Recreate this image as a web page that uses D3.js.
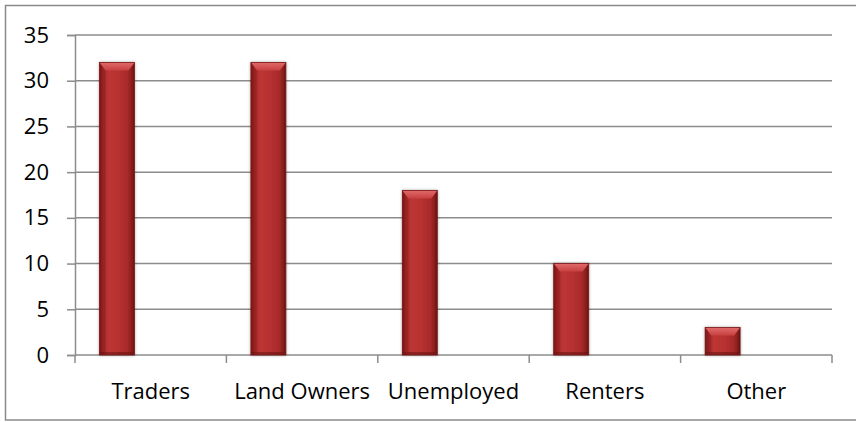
<!DOCTYPE html>
<html>
<head>
<meta charset="utf-8">
<script src="https://cdn.jsdelivr.net/npm/d3@7"></script>
<style>
  html, body { margin: 0; padding: 0; background: #fff; }
  svg { display: block; }
</style>
</head>
<body>
<svg id="chart" width="856" height="422"></svg>
<script>
// Occupation counts
const categories = ["Traders", "Land Owners", "Unemployed", "Renters", "Other"];
const values = [32, 32, 18, 10, 3];
const yTicks = [0, 5, 10, 15, 20, 25, 30, 35];

const svg = d3.select("#chart");
const W = 856, H = 422;
const margin = { left: 75, right: 24, top: 35, bottom: 67 };
const plotW = W - margin.left - margin.right;
const plotH = H - margin.top - margin.bottom;

const font = "'Open Sans', sans-serif";

// Outer frame
svg.append("rect")
  .attr("x", 5.5).attr("y", 5.5)
  .attr("width", W + 10).attr("height", 414.5)
  .attr("fill", "#fff").attr("stroke", "#8a8a8a").attr("stroke-width", 1.5);

const defs = svg.append("defs");
const side = defs.append("linearGradient").attr("id", "barSide")
  .attr("x1", "0").attr("x2", "1").attr("y1", "0").attr("y2", "0");
[["0%", "#6f1212"], ["10%", "#9e2525"], ["25%", "#bd3535"], ["50%", "#b93232"],
 ["80%", "#a82a2a"], ["92%", "#8a1e1e"], ["100%", "#661010"]]
  .forEach(([o, c]) => side.append("stop").attr("offset", o).attr("stop-color", c));

const cap = defs.append("linearGradient").attr("id", "barCap")
  .attr("x1", "0").attr("x2", "0").attr("y1", "0").attr("y2", "1");
[["0%", "#e06a6a"], ["100%", "#c84040"]]
  .forEach(([o, c]) => cap.append("stop").attr("offset", o).attr("stop-color", c));

const shadow = defs.append("filter").attr("id", "glow")
  .attr("x", "-30%").attr("y", "-10%").attr("width", "160%").attr("height", "120%");
shadow.append("feGaussianBlur").attr("in", "SourceAlpha").attr("stdDeviation", 1.6).attr("result", "b");
shadow.append("feComponentTransfer").attr("in", "b").attr("result", "s")
  .append("feFuncA").attr("type", "linear").attr("slope", 0.35);
const merge = shadow.append("feMerge");
merge.append("feMergeNode").attr("in", "s");
merge.append("feMergeNode").attr("in", "SourceGraphic");

const g = svg.append("g").attr("transform", `translate(${margin.left},${margin.top})`);

const x = d3.scaleBand().domain(categories).range([0, plotW]).padding(0);
const y = d3.scaleLinear().domain([0, 35]).range([plotH, 0]);

// Horizontal gridlines
g.append("g").selectAll("line").data(yTicks.filter(t => t > 0)).join("line")
  .attr("x1", 0).attr("x2", plotW)
  .attr("y1", d => y(d)).attr("y2", d => y(d))
  .attr("stroke", "#8c8c8c").attr("stroke-width", 1.5);

// Y axis
const yAxis = g.append("g")
  .call(d3.axisLeft(y).tickValues(yTicks).tickSize(8).tickPadding(18));
yAxis.select(".domain").attr("stroke", "#8c8c8c").attr("stroke-width", 1.5);
yAxis.selectAll(".tick line").attr("stroke", "#8c8c8c").attr("stroke-width", 1.5);
yAxis.selectAll("text").attr("font-family", font).attr("font-size", 22).attr("fill", "#000");

// X axis with boundary ticks between categories
const xAxisG = g.append("g").attr("transform", `translate(0,${plotH})`);
xAxisG.append("line").attr("x1", 0).attr("x2", plotW)
  .attr("stroke", "#8c8c8c").attr("stroke-width", 1.5);
const bounds = categories.map(c => x(c)).concat([plotW]);
xAxisG.selectAll("line.tk").data(bounds).join("line").attr("class", "tk")
  .attr("x1", d => d).attr("x2", d => d).attr("y1", 0).attr("y2", 8)
  .attr("stroke", "#8c8c8c").attr("stroke-width", 1.5);
xAxisG.selectAll("text").data(categories).join("text")
  .attr("x", d => x(d) + x.bandwidth() / 2).attr("y", 44)
  .attr("text-anchor", "middle")
  .attr("font-family", font).attr("font-size", 22).attr("fill", "#000")
  .text(d => d);

// Bars sit in the first slot of each category
const barOff = 0.162, barW = 0.231;
const bars = g.append("g").selectAll("g").data(categories.map((c, i) => ({ c, v: values[i] }))).join("g")
  .attr("filter", "url(#glow)");
bars.each(function (d) {
  const sel = d3.select(this);
  const bx = x(d.c) + x.bandwidth() * barOff;
  const bw = x.bandwidth() * barW;
  const top = y(d.v), bot = y(0);
  const bev = Math.min(8, (bot - top) / 2);
  sel.append("rect").attr("x", bx).attr("y", top).attr("width", bw).attr("height", bot - top)
    .attr("fill", "url(#barSide)");
  // top bevel
  sel.append("path")
    .attr("d", `M${bx},${top} L${bx + bw},${top} L${bx + bw - 6},${top + bev} L${bx + 6},${top + bev} Z`)
    .attr("fill", "url(#barCap)");
  sel.append("path")
    .attr("d", `M${bx},${top} L${bx + 6},${top + bev} L${bx + 6},${bot - 3} L${bx},${bot} Z`)
    .attr("fill", "#8a1c1c").attr("opacity", 0.35);
  // bottom edge
  sel.append("rect").attr("x", bx).attr("y", bot - 3).attr("width", bw).attr("height", 3)
    .attr("fill", "#6e1414").attr("opacity", 0.6);
  sel.append("rect").attr("x", bx).attr("y", top).attr("width", bw).attr("height", bot - top)
    .attr("fill", "none").attr("stroke", "#7a1818").attr("stroke-width", 0.8);
});
</script>
</body>
</html>
